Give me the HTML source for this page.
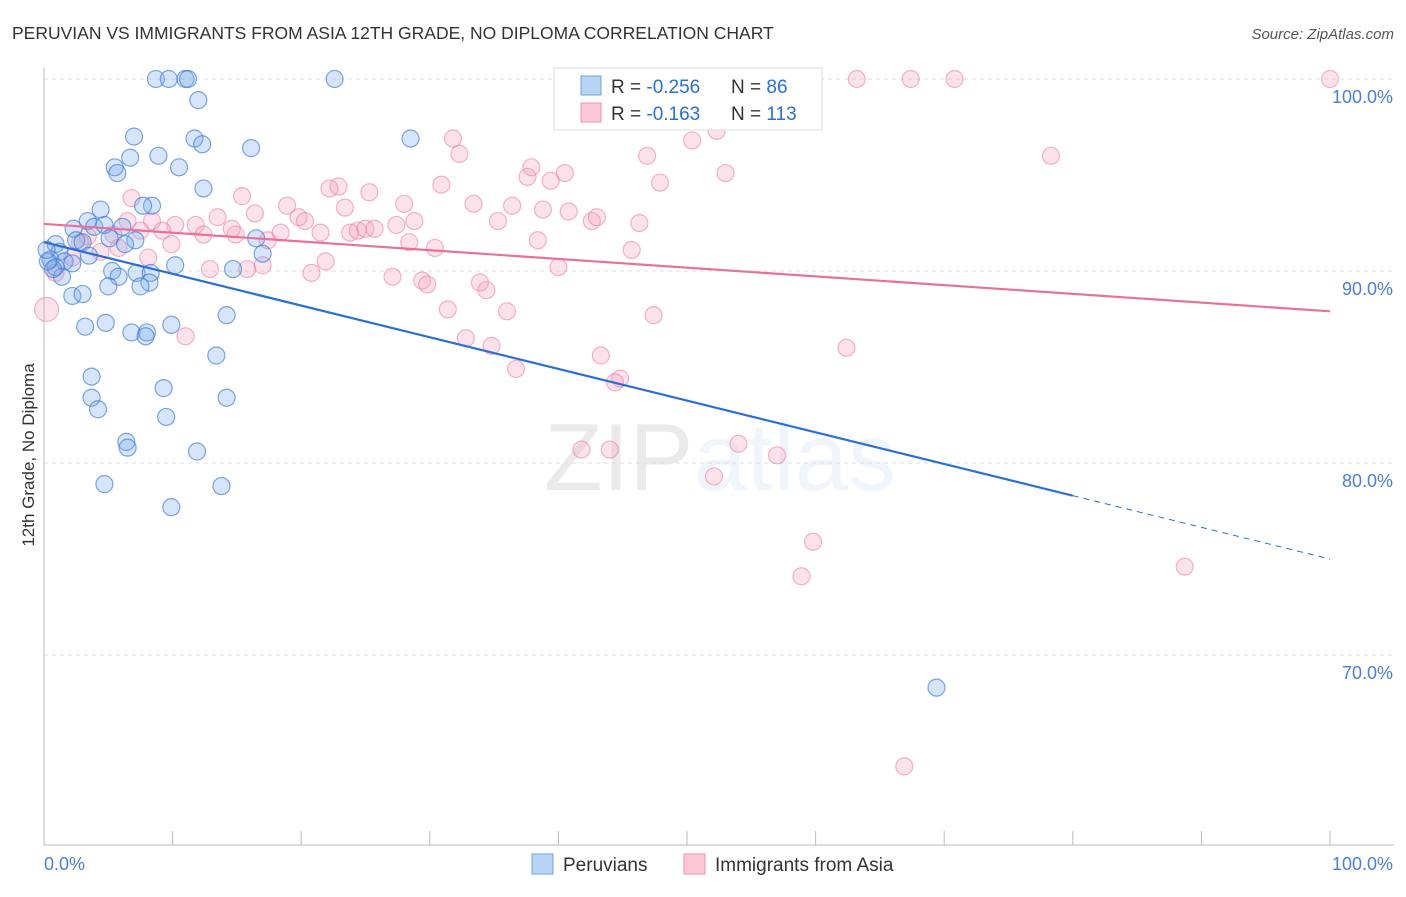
<!DOCTYPE html>
<html><head><meta charset="utf-8"><style>
body{margin:0;background:#fff;font-family:"Liberation Sans",sans-serif}
svg text{font-family:"Liberation Sans",sans-serif}
</style></head><body>
<svg id="chart" width="1406" height="892" xmlns="http://www.w3.org/2000/svg">
<text x="12" y="39" font-size="17.5" fill="#333">PERUVIAN VS IMMIGRANTS FROM ASIA 12TH GRADE, NO DIPLOMA CORRELATION CHART</text>
<text x="1394" y="39" font-size="15" fill="#555" font-style="italic" text-anchor="end">Source: ZipAtlas.com</text>
<text x="720" y="490" font-size="96" text-anchor="middle" fill="#000" opacity="0.08" font-family="Liberation Serif">ZIP<tspan fill="#4a90e2" opacity="1.5" font-family="Liberation Sans">atlas</tspan></text>
<g id="grid"></g>
<g id="axes"></g>
<g id="points"></g>
<g id="trends"></g>
<text transform="translate(34,455) rotate(-90)" font-size="17" fill="#333" text-anchor="middle">12th Grade, No Diploma</text>
<g>
<rect x="554" y="68" width="268" height="62" fill="#fff" stroke="#ddd"/>
<rect x="581" y="76" width="20" height="19" fill="#b8d4f5" stroke="#6fa0e0"/>
<rect x="581" y="103" width="20" height="19" fill="#fcc8d8" stroke="#f090b0"/>
<text x="611" y="93" font-size="19" fill="#333">R = <tspan fill="#2a6fd6">-0.256</tspan></text>
<text x="731" y="93" font-size="19" fill="#333">N = <tspan fill="#2a6fd6"> 86</tspan></text>
<text x="611" y="120" font-size="19" fill="#333">R = <tspan fill="#2a6fd6"> -0.163</tspan></text>
<text x="731" y="120" font-size="19" fill="#333">N = <tspan fill="#2a6fd6">113</tspan></text>
</g>
<g>
<rect x="532" y="854" width="21" height="20" fill="#b8d4f5" stroke="#6fa0e0"/>
<text x="563" y="871" font-size="19" fill="#333">Peruvians</text>
<rect x="684" y="854" width="21" height="20" fill="#fcc8d8" stroke="#f090b0"/>
<text x="715" y="871" font-size="19" fill="#333">Immigrants from Asia</text>
</g>
</svg>
<script>
const peruvians = [[8.7,100],[9.7,100],[11.0,100],[11.2,100],[22.6,100],[12.0,98.9],[7.0,97.0],[11.7,96.9],[12.3,96.6],[16.1,96.4],[28.5,96.9],[8.9,96.0],[6.7,95.9],[5.5,95.4],[10.5,95.4],[5.7,95.1],[12.4,94.3],[8.4,93.4],[4.4,93.2],[7.7,93.4],[2.3,92.2],[3.4,92.6],[3.9,92.3],[4.7,92.4],[6.1,92.3],[2.5,91.6],[3.0,91.5],[5.1,91.7],[7.1,91.6],[6.3,91.4],[16.5,91.7],[17.0,90.9],[0.9,91.4],[1.2,91.0],[0.5,90.6],[1.6,90.5],[2.2,90.4],[0.9,90.2],[3.5,90.8],[5.3,90.0],[7.2,89.9],[8.3,89.9],[10.2,90.3],[14.7,90.1],[1.4,89.7],[5.8,89.7],[8.2,89.4],[5.0,89.2],[7.5,89.2],[2.2,88.7],[3.0,88.8],[3.2,87.1],[4.8,87.3],[6.8,86.8],[8.0,86.8],[7.9,86.6],[9.9,87.2],[14.2,87.7],[13.4,85.6],[3.7,84.5],[9.3,83.9],[3.7,83.4],[14.2,83.4],[4.2,82.8],[9.5,82.4],[6.4,81.1],[6.5,80.8],[11.9,80.6],[4.7,78.9],[13.8,78.8],[9.9,77.7],[69.4,68.3],[0.7,90.1],[0.3,90.5],[0.2,91.1]];
const immigrants = [[53.3,100],[63.2,100],[67.4,100],[70.8,100],[100,100],[31.8,96.9],[52.3,97.3],[32.3,96.1],[50.4,96.8],[46.9,96.0],[78.3,96.0],[37.9,95.4],[39.4,94.7],[40.5,95.1],[47.9,94.6],[37.6,94.9],[53.0,95.1],[30.9,94.5],[22.2,94.3],[22.9,94.4],[25.3,94.1],[15.4,93.9],[28.0,93.5],[33.4,93.5],[23.4,93.3],[36.4,93.4],[38.8,93.2],[40.8,93.1],[6.8,93.8],[16.4,93.0],[18.9,93.4],[19.8,92.8],[20.3,92.6],[21.5,92.0],[23.8,92.0],[24.4,92.1],[25.0,92.2],[25.7,92.2],[27.4,92.4],[28.8,92.6],[35.3,92.6],[42.6,92.6],[43.0,92.8],[46.3,92.5],[13.5,92.8],[11.8,92.4],[10.2,92.4],[8.4,92.6],[6.5,92.6],[5.4,91.9],[7.5,92.1],[9.2,92.1],[9.9,91.4],[12.4,91.9],[14.9,91.9],[14.6,92.2],[17.4,91.6],[18.4,92.0],[28.4,91.5],[30.4,91.2],[38.4,91.6],[45.7,91.1],[4.4,91.0],[5.8,91.2],[8.1,90.7],[2.2,90.7],[0.9,89.9],[12.9,90.1],[15.8,90.1],[17.0,90.3],[20.8,89.9],[21.9,90.5],[27.1,89.7],[29.4,89.5],[29.8,89.3],[33.9,89.4],[34.4,89.0],[40.0,90.2],[31.4,88.0],[36.0,87.9],[47.4,87.7],[11.0,86.6],[32.8,86.5],[34.8,86.1],[43.3,85.6],[36.7,84.9],[62.4,86.0],[44.8,84.4],[44.4,84.2],[41.8,80.7],[44.0,80.7],[54.0,81.0],[57.0,80.4],[52.1,79.3],[59.8,75.9],[58.9,74.1],[88.7,74.6],[66.9,64.2],[3.4,91.8],[2.8,91.5]];
const bigPoint = [0.2,88.0];
const blueTrend = [91.5,75.0];
const pinkTrend = [92.45,87.9];
const yTicks = [100,90,80,70];
const yTickLabels = ["100.0%","90.0%","80.0%","70.0%"];
const xTicks = [0,10,20,30,40,50,60,70,80,90,100];

const NS="http://www.w3.org/2000/svg";
function X(v){return 44+v*12.86;}
function Y(v){return 79+(100-v)*19.2;}
function mk(tag,attrs,parent){const e=document.createElementNS(NS,tag);for(const k in attrs)e.setAttribute(k,attrs[k]);document.getElementById(parent).appendChild(e);return e;}

yTicks.forEach((t,i)=>{
  const g=mk('line',{x1:44,x2:1394,y1:Y(t),y2:Y(t),stroke:'#ddd','stroke-dasharray':'4,4'},'grid');
  
  
  const l=mk('text',{x:1393,y:Y(t)+24,'font-size':18,fill:'#4a7fd6','text-anchor':'end'},'axes');
  l.textContent=yTickLabels[i];
  
  
});
const ax=mk('line',{x1:44,x2:44,y1:68,y2:845,stroke:'#bbb'},'axes');


const bx=mk('line',{x1:44,x2:1394,y1:845,y2:845,stroke:'#bbb'},'axes');


xTicks.forEach(t=>{
  const tk=mk('line',{x1:X(t),x2:X(t),y1:831,y2:845,stroke:'#bbb'},'axes');
  
  
});
const x0=mk('text',{x:44,y:870,'font-size':18,fill:'#4a7fd6'},'axes');x0.textContent='0.0%';


const x1=mk('text',{x:1393,y:870,'font-size':18,fill:'#4a7fd6','text-anchor':'end'},'axes');x1.textContent='100.0%';



immigrants.forEach(p=>{
  const c=mk('circle',{cx:X(p[0]),cy:Y(p[1]),r:8.5,fill:'rgba(246,160,190,0.3)',stroke:'rgba(236,120,160,0.55)','stroke-width':1.2},'points');
  
  
});
const bp=mk('circle',{cx:X(bigPoint[0]),cy:Y(bigPoint[1]),r:12,fill:'rgba(246,160,190,0.3)',stroke:'rgba(236,120,160,0.55)','stroke-width':1.2},'points');


peruvians.forEach(p=>{
  const c=mk('circle',{cx:X(p[0]),cy:Y(p[1]),r:8.5,fill:'rgba(120,170,235,0.3)',stroke:'rgba(60,120,210,0.65)','stroke-width':1.2},'points');
  
  
});
function ty(tr,x){return tr[0]+(tr[1]-tr[0])*x/100;}
const bl=mk('line',{x1:X(0),y1:Y(ty(blueTrend,0)),x2:X(80),y2:Y(ty(blueTrend,80)),stroke:'#2a6fd6','stroke-width':2.2},'trends');


const bd=mk('line',{x1:X(80),y1:Y(ty(blueTrend,80)),x2:X(100),y2:Y(ty(blueTrend,100)),stroke:'#2a6fd6','stroke-width':1,'stroke-dasharray':'6,5'},'trends');


const pl=mk('line',{x1:X(0),y1:Y(ty(pinkTrend,0)),x2:X(100),y2:Y(ty(pinkTrend,100)),stroke:'#e8709a','stroke-width':2.2},'trends');


</script>
</body></html>
